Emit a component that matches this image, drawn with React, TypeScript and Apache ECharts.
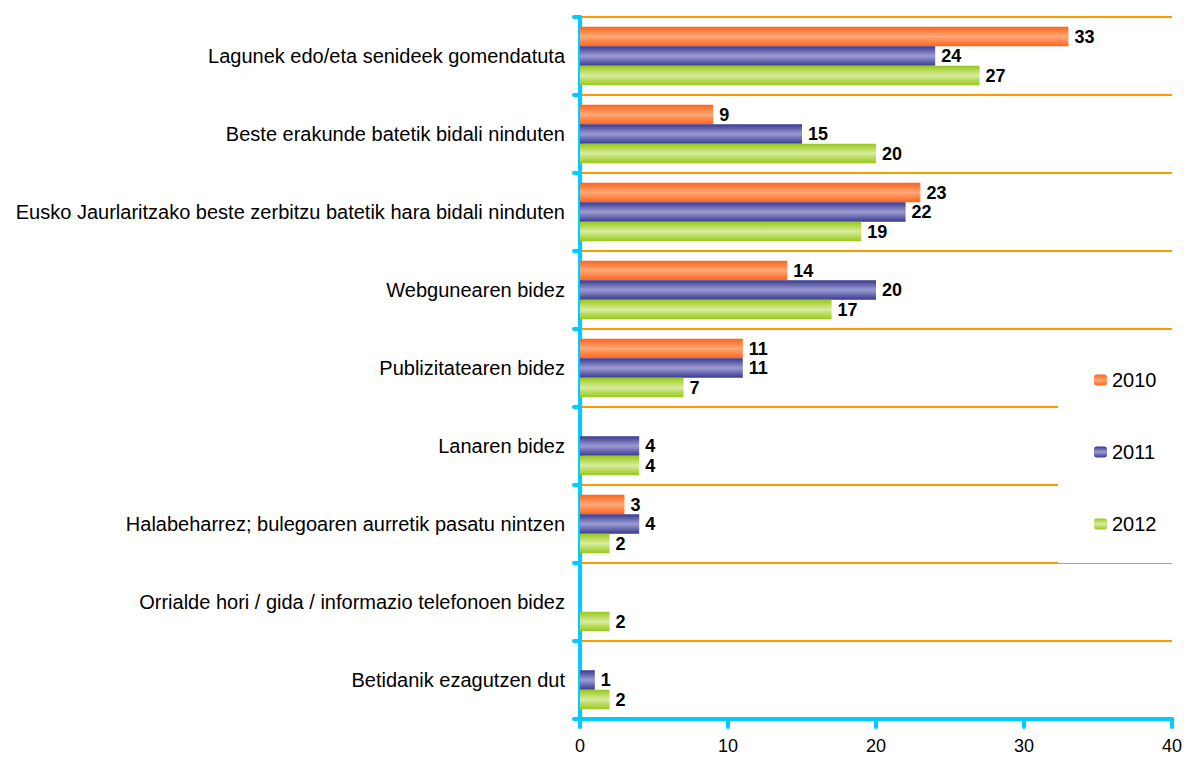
import React, { useEffect, useRef } from "react";
import * as echarts from "echarts";

const categories = [
  "Lagunek edo/eta senideek gomendatuta",
  "Beste erakunde batetik bidali ninduten",
  "Eusko Jaurlaritzako beste zerbitzu batetik hara bidali ninduten",
  "Webgunearen bidez",
  "Publizitatearen bidez",
  "Lanaren bidez",
  "Halabeharrez; bulegoaren aurretik pasatu nintzen",
  "Orrialde hori / gida / informazio telefonoen bidez",
  "Betidanik ezagutzen dut",
];
const seriesNames = ["2010", "2011", "2012"];
const values2010 = [33, 9, 23, 14, 11, null, 3, null, null];
const values2011 = [24, 15, 22, 20, 11, 4, 4, null, 1];
const values2012 = [27, 20, 19, 17, 7, 4, 2, 2, 2];
const xTicks = { min: 0, max: 40, interval: 10 };

const grad = (edge: string, mid: string) =>
  new echarts.graphic.LinearGradient(0, 0, 0, 1, [
    { offset: 0, color: edge },
    { offset: 0.5, color: mid },
    { offset: 1, color: edge },
  ]);

const FONT = "'Liberation Sans', Arial, sans-serif";
const CYAN = "#00CCFF";

export default function App() {
  const ref = useRef<HTMLDivElement>(null);
  useEffect(() => {
    const chart = echarts.init(ref.current!, null, { renderer: "svg" });
    const colors = [
      grad("#FF6419", "#FFA878"),
      grad("#383890", "#9C9CD2"),
      grad("#98C81A", "#D8EC9E"),
    ];
    const data = [values2010, values2011, values2012];
    chart.setOption({
      animation: false,
      textStyle: { fontFamily: FONT },
      grid: { left: 580, top: 17, right: 17, bottom: 41, containLabel: false },
      legend: {
        orient: "vertical",
        left: 1058,
        top: 336,
        padding: [34, 40, 29, 36],
        backgroundColor: "#ffffff",
        itemWidth: 13,
        itemHeight: 11,
        itemGap: 52,
        data: seriesNames,
        textStyle: { fontSize: 20, color: "#000", fontFamily: FONT },
        z: 10,
      },
      xAxis: {
        type: "value",
        min: xTicks.min,
        max: xTicks.max,
        interval: xTicks.interval,
        axisLine: { show: true, lineStyle: { color: CYAN, width: 4, cap: "round" } },
        axisTick: { show: true, length: 8, lineStyle: { color: CYAN, width: 4, cap: "round" } },
        splitLine: { show: false },
        axisLabel: { fontSize: 18, color: "#000", margin: 18, fontFamily: FONT },
      },
      yAxis: {
        type: "category",
        inverse: true,
        data: categories,
        axisLine: { show: true, lineStyle: { color: CYAN, width: 4, cap: "round" } },
        axisTick: { show: true, length: 6, lineStyle: { color: CYAN, width: 4, cap: "round" } },
        splitLine: { show: true, lineStyle: { color: "#FF9900", width: 2 } },
        axisLabel: { fontSize: 20, color: "#000", margin: 15, fontFamily: FONT },
      },
      series: seriesNames.map((name, i) => ({
        name,
        type: "bar",
        data: data[i],
        barGap: "0%",
        barCategoryGap: "25%",
        itemStyle: { color: colors[i] },
        label: {
          show: true,
          position: "right",
          distance: 6,
          fontSize: 18,
          lineHeight: 18,
          fontWeight: "bold",
          color: "#000",
          fontFamily: FONT,
        },
      })),
    });
    return () => chart.dispose();
  }, []);
  return <div ref={ref} style={{ width: 1189, height: 760, position: "absolute", left: 0, top: 0 }} />;
}
